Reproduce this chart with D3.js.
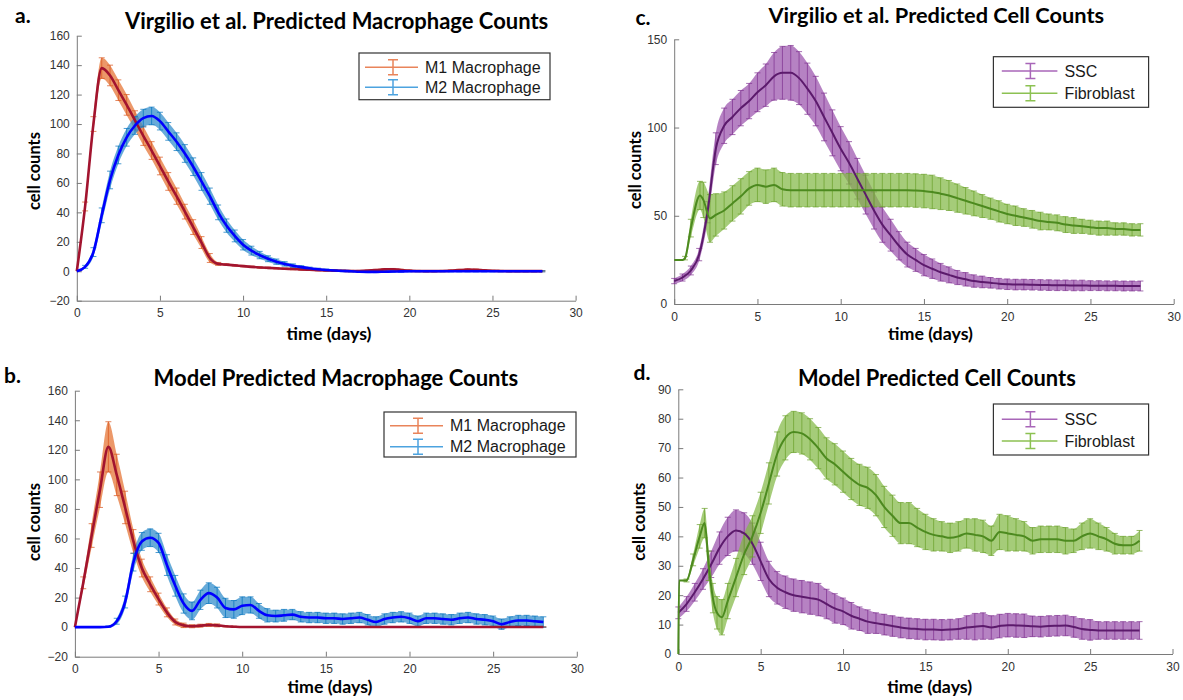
<!DOCTYPE html>
<html>
<head>
<meta charset="utf-8">
<script src="https://cdn.jsdelivr.net/npm/d3@7"></script>
<style>
body { margin: 0; background: #fff; }
</style>
</head>
<body>
<svg width="1183" height="700"></svg>
<script>
// sample times (days) used by most series
var days = d3.range(0, 28.01, 0.5)

// a. Virgilio et al. macrophages
var aM1 = [0, 44, 100, 138, 133, 123, 113, 102.5, 92, 82,
           71.5, 61, 51, 40.5, 30, 19.5, 9, 5, 4.5, 4,
           3.5, 3, 2.6, 2.3, 2, 1.7, 1.5, 1.2, 1, 0.8,
           0.6, 0.4, 0.3, 0.2, 0.2, 0.4, 0.8, 1.3, 1.4, 0.9,
           0.4, 0.2, 0.1, 0.1, 0.2, 0.4, 0.8, 1.1, 1, 0.6,
           0.3, 0.2, 0.1, 0.1, 0.1, 0.1, 0.1]
var aM1Err = [0, 3, 5, 7, 7, 7, 7, 6.5, 6.5, 6,
              6, 6, 5.5, 5, 5, 4, 3, 1, 0.6, 0.5,
              0.5, 0.5, 0.5, 0.5, 0.5, 0.5, 0.5, 0.5, 0.5, 0.5,
              0.5, 0.5, 0.4, 0.4, 0.4, 0.4, 0.5, 0.5, 0.5, 0.5,
              0.4, 0.4, 0.4, 0.4, 0.4, 0.4, 0.5, 0.5, 0.5, 0.4,
              0.4, 0.4, 0.4, 0.4, 0.4, 0.4, 0.4]
var aM2 = [0, 3, 13, 38, 62, 79, 91, 99, 104, 105.5,
           102, 95, 88, 80, 71, 61, 51, 40, 31, 24,
           18, 14, 11, 8.5, 6.5, 5, 3.8, 2.8, 2, 1.4,
           0.9, 0.5, 0.2, 0, -0.3, -0.4, -0.4, -0.3, -0.2, -0.1,
           0, 0, 0, 0, 0, 0, 0, 0, 0, 0,
           0, 0, 0, 0, 0, 0, 0]
var aM2Err = [0, 1, 3, 5, 6, 6, 6, 6, 6, 6,
              6, 6, 6, 6, 6, 6, 5.5, 5, 4.5, 4,
              3.5, 3, 2.5, 2, 1.8, 1.5, 1.2, 1, 0.8, 0.7,
              0.6, 0.5, 0.5, 0.5, 0.5, 0.5, 0.5, 0.5, 0.5, 0.5,
              0.4, 0.4, 0.4, 0.4, 0.4, 0.4, 0.4, 0.4, 0.4, 0.4,
              0.4, 0.4, 0.4, 0.4, 0.4, 0.4, 0.4]

// b. model macrophages
var bM1 = [0, 30, 62, 93, 122, 103, 81, 58, 40, 29,
           19, 10, 3.5, 1.2, 0.6, 1, 1.5, 1.2, 0.6, 0.3,
           0.1, 0.1, 0.1, 0.1, 0.1, 0.1, 0.1, 0.1, 0.1, 0.1,
           0.1, 0.1, 0.1, 0.1, 0.1, 0.1, 0.1, 0.1, 0.1, 0.1,
           0.1, 0.1, 0.1, 0.1, 0.1, 0.1, 0.1, 0.1, 0.1, 0.1,
           0.1, 0.1, 0.1, 0.1, 0.1, 0.1, 0.1]
var bM1Err = [0, 4, 8, 12, 17, 14, 11, 8, 6, 5,
              4, 3, 2, 1.5, 1, 1, 1, 1, 0.5, 0.3,
              0.3, 0.3, 0.3, 0.3, 0.3, 0.3, 0.3, 0.3, 0.3, 0.3,
              0.3, 0.3, 0.3, 0.3, 0.3, 0.3, 0.3, 0.3, 0.3, 0.3,
              0.3, 0.3, 0.3, 0.3, 0.3, 0.3, 0.3, 0.3, 0.3, 0.3,
              0.3, 0.3, 0.3, 0.3, 0.3, 0.3, 0.3]
var bM2 = [0, 0, 0, 0, 0.3, 4, 17, 44, 58, 60.5,
           57, 42, 28, 16, 11, 18.5, 23, 20, 13, 12,
           14.5, 15, 11, 8, 7.5, 8, 8.5, 7, 6.5, 6.5,
           6, 6, 5.5, 6, 6.5, 5, 3.5, 5.5, 6.5, 7,
           6, 4, 6, 6, 5.5, 5, 6, 6.5, 5.5, 5,
           4, 2, 3.5, 4.5, 4.5, 4, 3.5]
var bM2Err = [0, 0, 0, 0, 0.5, 2, 4, 6, 6, 6,
              6.5, 7, 7, 6.5, 6, 6.5, 7, 7, 6.5, 6,
              6, 5.5, 5, 4.5, 4, 4, 3.5, 3.5, 3.5, 3.5,
              3.5, 3.5, 3.5, 3.5, 3.5, 3.5, 3.5, 3.5, 3.5, 3.5,
              3.5, 3.5, 3.5, 3.5, 3.5, 3.5, 3.5, 3.5, 3.5, 3.5,
              3.5, 3.5, 3.5, 3.5, 3.5, 3.5, 3.5]

// c. Virgilio et al. SSC / fibroblast
var cSSC = [13, 15, 19, 28, 52, 88, 101, 106, 111, 115,
            120, 124, 129, 131, 131, 128, 122, 115, 106, 97,
            88, 80, 71, 62, 53, 45, 39, 33, 28, 25,
            22, 20, 18, 16.5, 15, 14, 13, 12.5, 12, 11.5,
            11.2, 11, 11, 10.9, 10.8, 10.7, 10.6, 10.6, 10.5, 10.5,
            10.4, 10.4, 10.3, 10.3, 10.2, 10.2, 10.2]
var cSSCErr = [1.5, 2, 2.5, 3.5, 6, 9, 10, 10, 10, 10,
               11, 12, 13.5, 15, 15.5, 15, 14.5, 14, 13.5, 13,
               12.5, 12, 11.5, 11, 10.5, 10, 9, 8, 7, 6.5,
               6, 5.5, 5, 4.5, 4, 3.8, 3.5, 3.3, 3, 3,
               3, 3, 3, 3, 3, 3, 3, 3, 3, 3,
               2.8, 2.8, 2.8, 2.8, 2.8, 2.8, 2.8]
var cFibroDays = [0, 0.5, 0.65, 1, 1.55, 1.75, 2.15, 2.5].concat(d3.range(3, 28.01, 0.5))
var cFibro = [25, 25, 26, 43, 61.5, 59, 48.5, 50.5,
              53, 57, 61, 65.5, 67.5, 66.5, 67.5, 65, 64.5, 64.5,
              64.5, 64.5, 64.5, 64.5, 64.5, 64.5, 64.5, 64.5, 64.5, 64.5,
              64.5, 64.5, 64.5, 64.3, 64, 63.5, 62.5, 61.5, 60, 58.5,
              57, 55.5, 54, 52.5, 51, 50, 49, 48, 47, 46.5,
              46, 45, 44.5, 44, 43.5, 43, 43, 42.5, 42.5, 42,
              42]
var cFibroErr = [0, 0, 1, 5, 8, 10, 13.5, 12,
                 10.5, 10, 10, 9.5, 9.5, 9.5, 9.5, 9.5, 9.5, 9.5,
                 9.5, 9.5, 9.5, 9.5, 9.5, 9.5, 9.5, 9.5, 9.5, 9.5,
                 9.5, 9.5, 9.5, 9.5, 9.5, 9.5, 9, 8.5, 8, 7.5,
                 7, 6.5, 6, 6, 5.5, 5.5, 5, 5, 5, 4.5,
                 4.5, 4.5, 4.5, 4, 4, 4, 4, 3.5, 3.5, 3.5,
                 3.5]

// d. model SSC / fibroblast
var dSSC = [14, 17, 21, 25.5, 30.5, 36, 40, 42, 41, 37.5,
            31.5, 25.5, 22.5, 21, 20, 19.5, 19, 18.5, 17, 15.5,
            14.5, 13, 12, 11, 10.5, 10, 9.5, 9, 8.7, 8.5,
            8.3, 8.3, 8.2, 8.3, 8.5, 9, 9.3, 9.5, 9, 9.5,
            9.8, 9.7, 9.6, 9.4, 9.3, 9.5, 9.6, 9.7, 9.2, 8.5,
            8.2, 8, 8, 8, 8, 8, 8]
var dSSCErr = [2, 2.5, 3, 3.5, 4.5, 5.5, 6.5, 7, 7, 7,
               6.5, 6, 5.5, 5.5, 5.5, 5.5, 5.5, 5.5, 5, 5,
               4.5, 4.5, 4, 4, 3.5, 3.5, 3.5, 3.5, 3.5, 3.5,
               3.5, 3.5, 3.5, 3.5, 3.5, 4, 4.5, 4.5, 4, 4,
               4, 4, 4, 3.5, 3.5, 3.5, 3.5, 3.5, 3.5, 3.5,
               3.5, 3, 3, 3, 3, 3, 3]
var dFibroDays = [0, 0.05, 0.5, 0.9, 1.3, 1.6, 1.85, 2.1, 2.35, 2.65].concat(d3.range(3, 28.01, 0.5))
var dFibro = [0, 25, 25, 32, 40, 44.5, 30, 19, 14, 12.5,
              18, 26, 34, 40, 48, 58, 68, 73.5, 75.5, 75,
              73, 70, 66.5, 64.5, 62, 59.5, 57.5, 56.5, 54, 50,
              47, 44.5, 44.5, 43, 41.5, 40.5, 40, 39.5, 40, 41,
              40.5, 40, 38.5, 41.5, 41, 40.5, 40, 38.5, 39, 39,
              39, 38.5, 38.5, 40, 41, 40, 39, 37.5, 37, 37,
              38.5]
var dFibroErr = [0, 0, 0.5, 2, 4, 5, 5, 5, 5.5, 6,
                 6, 6.5, 7, 7, 7, 7, 7.5, 7.5, 7, 7,
                 7, 7, 7, 7, 7, 7, 7, 7, 7, 7,
                 7, 7, 7, 6.5, 6, 5.5, 5, 5, 5, 5,
                 5.5, 5.5, 5, 6, 6, 5.5, 5, 4.5, 4.5, 4.5,
                 4.5, 4.5, 4, 4.5, 5, 4.5, 4, 3.5, 3, 3,
                 3.5]

var xTicks = [0, 5, 10, 15, 20, 25, 30]
var macroTicks = [-20, 0, 20, 40, 60, 80, 100, 120, 140, 160]
var cTicks = [0, 50, 100, 150]
var dTicks = [0, 10, 20, 30, 40, 50, 60, 70, 80, 90]

var m1Style = {errColor: '#D95319', bandColor: '#E5702F', lineColor: '#A2142F', legendColor: '#E9845A', lw: 2.6}
var m2Style = {errColor: '#0072BD', bandColor: '#2C8ACB', lineColor: '#0000FF', legendColor: '#4DA3DF', lw: 2.6}
var sscStyle = {errColor: '#7E2F8E', bandColor: '#9A52AC', lineColor: '#5C1A6C', legendColor: '#A866B8', lw: 2}
var fibStyle = {errColor: '#6A9F2A', bandColor: '#82B845', lineColor: '#4C8A1F', legendColor: '#8CC152', lw: 2}

function series(name, t, v, e, style) {
  return {name: name, style: style,
          pts: t.map(function(tt, i) { return {t: tt, v: v[i], e: e[i]} })}
}

var panels = [
  {letter: 'a.', letterX: 15, letterY: 23.3,
   title: 'Virgilio et al. Predicted Macrophage Counts', titleX: 336.6, titleY: 29.3, titleW: 423.6,
   x0: 76.8, x1: 575.6, yTop: 35.7, yBot: 300.7, yDomain: [-20, 160], yTicks: macroTicks,
   ylabX: 34, ylabY: 171, xlabX: 329, xlabY: 340,
   legend: {x: 359, y: 53, w: 191, h: 46.7, rows: [67.2, 87.2], lx0: 6, lx1: 59, ix: 34, tx: 66},
   series: [series('M1 Macrophage', days, aM1, aM1Err, m1Style),
            series('M2 Macrophage', days, aM2, aM2Err, m2Style)]},
  {letter: 'b.', letterX: 4, letterY: 383,
   title: 'Model Predicted Macrophage Counts', titleX: 335.9, titleY: 386, titleW: 365,
   x0: 74.9, x1: 576.8, yTop: 390.7, yBot: 656.7, yDomain: [-20, 160], yTicks: macroTicks,
   ylabX: 34, ylabY: 522, xlabX: 330, xlabY: 693,
   legend: {x: 384, y: 412, w: 192, h: 45, rows: [425.7, 446.7], lx0: 6, lx1: 59, ix: 34, tx: 66},
   series: [series('M1 Macrophage', days, bM1, bM1Err, m1Style),
            series('M2 Macrophage', days, bM2, bM2Err, m2Style)]},
  {letter: 'c.', letterX: 635.5, letterY: 25,
   title: 'Virgilio et al. Predicted Cell Counts', titleX: 936.3, titleY: 22.7, titleW: 336,
   x0: 674.2, x1: 1173.7, yTop: 39.3, yBot: 304, yDomain: [0, 150], yTicks: cTicks,
   ylabX: 635.5, ylabY: 170, xlabX: 930.5, xlabY: 340,
   legend: {x: 993.4, y: 56.7, w: 155.2, h: 50.6, rows: [71, 93.3], lx0: 8.4, lx1: 64, ix: 37, tx: 71},
   series: [series('SSC', days, cSSC, cSSCErr, sscStyle),
            series('Fibroblast', cFibroDays, cFibro, cFibroErr, fibStyle)]},
  {letter: 'd.', letterX: 633.6, letterY: 380,
   title: 'Model Predicted Cell Counts', titleX: 936.9, titleY: 386, titleW: 278,
   x0: 678.3, x1: 1172.5, yTop: 389.3, yBot: 654, yDomain: [0, 90], yTicks: dTicks,
   ylabX: 639.3, ylabY: 521.7, xlabX: 929.7, xlabY: 693,
   legend: {x: 993.4, y: 404, w: 155.2, h: 51, rows: [419.3, 441], lx0: 8.4, lx1: 64, ix: 37, tx: 71},
   series: [series('SSC', days, dSSC, dSSCErr, sscStyle),
            series('Fibroblast', dFibroDays, dFibro, dFibroErr, fibStyle)]}
]

var svg = d3.select('svg')

// shrink or grow a text node to a measured width
function fit(sel, w) {
  var fs = parseFloat(sel.attr('font-size'))
  var len = sel.node().getComputedTextLength()
  if (len > 0) sel.attr('font-size', fs * w / len)
}

panels.forEach(function(p) {
  var x = d3.scaleLinear().domain([0, 30]).range([p.x0, p.x1])
  var y = d3.scaleLinear().domain(p.yDomain).range([p.yBot, p.yTop])
  var g = svg.append('g')

  // axes, MATLAB style: ticks pointing in, no box
  var xa = g.append('g')
      .attr('transform', 'translate(0,' + p.yBot + ')')
      .call(d3.axisBottom(x).tickValues(xTicks).tickSizeInner(-5).tickSizeOuter(0).tickPadding(8))
  var ya = g.append('g')
      .attr('transform', 'translate(' + p.x0 + ',0)')
      .call(d3.axisLeft(y).tickValues(p.yTicks).tickSizeInner(-5).tickSizeOuter(0).tickPadding(7))
  ;[xa, ya].forEach(function(a) {
    a.selectAll('path,line').attr('stroke', '#7a7a7a')
    a.selectAll('text').attr('fill', '#333').style('font-family', '"Liberation Sans", Arial, sans-serif').style('font-size', '12px')
  })

  // error bands + error bars
  p.series.forEach(function(s) {
    var band = d3.area()
        .x(function(d) { return x(d.t) })
        .y0(function(d) { return y(d.v - d.e) })
        .y1(function(d) { return y(d.v + d.e) })
        .curve(d3.curveMonotoneX)
    g.append('path')
        .attr('d', band(s.pts))
        .attr('fill', s.style.bandColor)
        .attr('fill-opacity', 0.72)
    g.append('g').selectAll('path')
        .data(s.pts.filter(function(d) { return d.e > 0 }))
        .join('path')
        .attr('d', function(d) {
          var px = x(d.t), lo = y(d.v - d.e), hi = y(d.v + d.e)
          return 'M' + px + ',' + lo + 'V' + hi +
                 'M' + (px - 3) + ',' + hi + 'h6' +
                 'M' + (px - 3) + ',' + lo + 'h6'
        })
        .attr('stroke', s.style.errColor)
        .attr('stroke-opacity', 0.7)
        .attr('stroke-width', 1)
        .attr('fill', 'none')
  })

  // mean lines on top
  p.series.forEach(function(s) {
    var line = d3.line()
        .x(function(d) { return x(d.t) })
        .y(function(d) { return y(d.v) })
        .curve(d3.curveMonotoneX)
    g.append('path')
        .attr('d', line(s.pts))
        .attr('fill', 'none')
        .attr('stroke', s.style.lineColor)
        .attr('stroke-width', s.style.lw)
        .attr('stroke-linejoin', 'round')
  })

  // legend
  var L = p.legend
  var lg = g.append('g')
  lg.append('rect')
      .attr('x', L.x).attr('y', L.y).attr('width', L.w).attr('height', L.h)
      .attr('fill', '#fff').attr('stroke', '#333').attr('stroke-width', 1.2)
  p.series.forEach(function(s, i) {
    var ry = L.rows[i], ix = L.x + L.ix
    lg.append('line')
        .attr('x1', L.x + L.lx0).attr('x2', L.x + L.lx1).attr('y1', ry).attr('y2', ry)
        .attr('stroke', s.style.legendColor).attr('stroke-width', 1.5)
    lg.append('path')
        .attr('d', 'M' + ix + ',' + (ry - 7.5) + 'V' + (ry + 7.5) +
                   'M' + (ix - 5) + ',' + (ry - 7.5) + 'h10' +
                   'M' + (ix - 5) + ',' + (ry + 7.5) + 'h10')
        .attr('stroke', s.style.legendColor).attr('stroke-width', 1.5).attr('fill', 'none')
    lg.append('text')
        .attr('x', L.x + L.tx).attr('y', ry).attr('dy', '0.36em')
        .attr('font-family', '"Liberation Sans", Arial, sans-serif')
        .attr('font-size', 16).attr('fill', '#1a1a1a')
        .text(s.name)
  })

  // titles and labels
  var t = g.append('text')
      .attr('x', p.titleX).attr('y', p.titleY)
      .attr('text-anchor', 'middle')
      .attr('font-family', 'Lato, "Open Sans", sans-serif').attr('font-weight', 'bold')
      .attr('font-size', 20).attr('fill', '#000')
      .text(p.title)
  fit(t, p.titleW)

  g.append('text')
      .attr('x', p.letterX).attr('y', p.letterY)
      .attr('font-family', 'Lato, "Open Sans", sans-serif').attr('font-weight', 'bold')
      .attr('font-size', 21).attr('fill', '#000')
      .text(p.letter)

  var yl = g.append('text')
      .attr('transform', 'translate(' + p.ylabX + ',' + p.ylabY + ') rotate(-90)')
      .attr('dy', '0.35em')
      .attr('text-anchor', 'middle')
      .attr('font-family', 'Lato, "Open Sans", sans-serif').attr('font-weight', 'bold')
      .attr('font-size', 15).attr('fill', '#000')
      .text('cell counts')
  fit(yl, 78)

  var xl = g.append('text')
      .attr('x', p.xlabX).attr('y', p.xlabY)
      .attr('text-anchor', 'middle')
      .attr('font-family', 'Lato, "Open Sans", sans-serif').attr('font-weight', 'bold')
      .attr('font-size', 16).attr('fill', '#000')
      .text('time (days)')
  fit(xl, 85)
})
</script>
</body>
</html>
